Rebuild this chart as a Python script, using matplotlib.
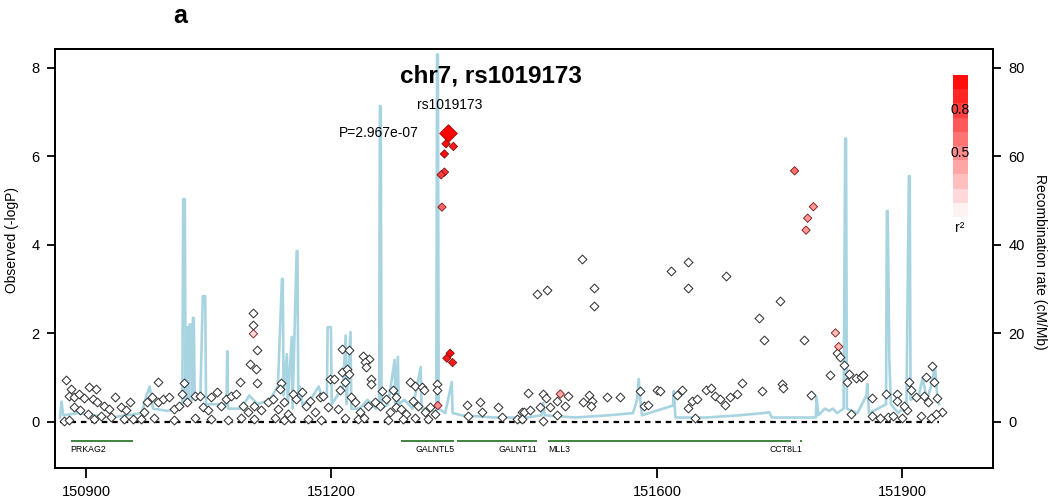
import numpy as np
import matplotlib
matplotlib.use("Agg")
import matplotlib.pyplot as plt
from matplotlib.patches import Rectangle

plt.rcParams['font.family'] = ['Liberation Sans', 'DejaVu Sans']

# SNPs with no LD information (open diamonds), position in kb and -log10 P
snp_pos = [150876, 150881, 150879, 150885, 150891, 150898, 150904, 150912, 150909, 150914,
           150922, 150928, 150936, 150943, 150949, 150954, 150885, 150893, 150902, 150918,
           150930, 150947, 150957, 150873, 150879, 150910, 150971, 150975, 150981, 150988,
           150988, 150994, 151002, 151008, 151014, 151018, 151020, 151024, 151033, 151039,
           151043, 151049, 151053, 151060, 151065, 151071, 151078, 151084, 151089, 151092,
           151098, 151106, 151105, 151105, 151110, 151101, 151108, 151110, 151114, 151123,
           151129, 151135, 151139, 151138, 151143, 151147, 151153, 151157, 151164, 151170,
           151174, 151180, 151186, 151190, 151196, 151199, 151204, 151209, 151211, 151213,
           151222, 151213, 151220, 151222, 151217, 151225, 151229, 151235, 151239, 151247,
           151242, 151243, 151249, 151249, 151245, 151254, 151260, 151262, 151268, 151272,
           151276, 151280, 151280, 151286, 151292, 151297, 151301, 151303, 151307, 151311,
           151314, 151315, 151321, 151327, 151330, 151330, 151367, 151382, 151405, 151385,
           151368, 151409, 151428, 151434,
           150967, 150983, 151008, 151033, 151053, 151074, 151090, 151106, 151131, 151143,
           151151, 151172, 151188, 151217, 151233, 151241, 151270, 151288, 151303, 151319,
           151452, 151465, 151507, 151522, 151522, 151616, 151637, 151637, 151684, 151724,
           151730, 151750, 151779, 151820, 151824, 151828, 151835, 151832, 151811, 151843,
           151849, 151852, 151936, 151939, 151929, 151908, 151910, 151880, 151894, 151894,
           151917, 151927, 151931, 151943, 151948, 151863, 151788, 151837, 151863, 151872,
           151882, 151888, 151900, 151906, 151902, 151923, 151935, 151941, 151442, 151460,
           151464, 151456, 151468, 151477, 151491, 151487, 151477, 151460, 151436, 151509,
           151516, 151520, 151518, 151538, 151554, 151578, 151584, 151589, 151599, 151603,
           151624, 151630, 151638, 151642, 151649, 151646, 151659, 151665, 151671, 151677,
           151683, 151689, 151698, 151704, 151728, 151752, 151754, 151444, 151434]
snp_logp = [0.95, 0.75, 0.59, 0.56, 0.63, 0.53, 0.80, 0.75, 0.52, 0.44,
            0.37, 0.29, 0.56, 0.33, 0.26, 0.44, 0.33, 0.26, 0.18, 0.14,
            0.11, 0.07, 0.07, 0.03, 0.05, 0.07, 0.22, 0.44, 0.56, 0.44,
            0.91, 0.52, 0.56, 0.29, 0.37, 0.63, 0.87, 0.44, 0.59, 0.59,
            0.33, 0.26, 0.56, 0.67, 0.37, 0.52, 0.59, 0.63, 0.91, 0.37,
            0.22, 0.37, 2.45, 2.19, 1.63, 1.31, 1.20, 0.88, 0.26, 0.44,
            0.52, 0.29, 0.87, 0.75, 0.44, 0.18, 0.63, 0.52, 0.67, 0.37,
            0.48, 0.22, 0.56, 0.59, 0.33, 0.96, 0.97, 0.29, 0.71, 1.65,
            1.63, 1.12, 1.20, 1.08, 0.90, 0.56, 0.44, 0.22, 1.50, 1.42,
            1.35, 1.23, 0.97, 0.86, 0.37, 0.44, 0.37, 0.69, 0.52, 0.22,
            0.71, 0.56, 0.33, 0.29, 0.18, 0.90, 0.48, 0.82, 0.37, 0.78,
            0.71, 0.22, 0.33, 0.18, 0.86, 0.71, 0.38, 0.44, 0.33, 0.22,
            0.14, 0.11, 0.07, 0.22,
            0.06, 0.08, 0.05, 0.10, 0.07, 0.04, 0.09, 0.06, 0.08, 0.05,
            0.10, 0.07, 0.04, 0.08, 0.06, 0.09, 0.05, 0.07, 0.10, 0.06,
            2.89, 2.98, 3.68, 3.02, 2.61, 3.40, 3.62, 3.03, 3.30, 2.34,
            1.86, 2.72, 1.86, 1.56, 1.46, 1.29, 1.08, 0.90, 1.05, 0.99,
            1.02, 1.05, 1.27, 0.90, 1.02, 0.90, 0.73, 0.63, 0.63, 0.48,
            0.56, 0.59, 0.44, 0.53, 0.23, 0.53, 0.61, 0.18, 0.14, 0.08,
            0.11, 0.14, 0.08, 0.26, 0.37, 0.14, 0.08, 0.18, 0.65, 0.63,
            0.53, 0.33, 0.33, 0.48, 0.58, 0.37, 0.16, 0.03, 0.22, 0.46,
            0.61, 0.48, 0.37, 0.56, 0.56, 0.69, 0.35, 0.38, 0.71, 0.69,
            0.61, 0.71, 0.31, 0.48, 0.52, 0.08, 0.71, 0.76, 0.58, 0.52,
            0.38, 0.56, 0.63, 0.88, 0.69, 0.86, 0.76, 0.26, 0.07]

# SNPs in LD with the lead SNP (filled, coloured by r2)
ld_pos = [151341, 151350, 151339, 151339, 151335, 151336, 151342, 151346, 151349, 151331,
          151481, 151768, 151791, 151784, 151782, 151818, 151822, 151105]
ld_logp = [6.28, 6.22, 6.05, 5.64, 5.58, 4.85, 1.44, 1.55, 1.34, 0.37,
           0.63, 5.67, 4.86, 4.60, 4.33, 2.01, 1.70, 1.99]
ld_r2 = [0.95, 0.90, 0.95, 0.80, 0.75, 0.60, 0.90, 0.95, 0.90, 0.45,
         0.35, 0.55, 0.40, 0.40, 0.40, 0.25, 0.30, 0.15]

lead_name = "rs1019173"
lead_pos = 151343.6
lead_logp = 6.528
lead_p = "P=2.967e-07"

# recombination rate (cM/Mb)
recomb_pos = [150868, 150870, 150872, 150890, 150910, 150930, 150950, 150968, 150974, 150978,
              150982, 151000, 151010, 151018, 151019, 151021, 151022, 151023, 151025, 151026,
              151027, 151029, 151030, 151031, 151032, 151033, 151040, 151043, 151046, 151047,
              151060, 151072, 151073, 151074, 151090, 151100, 151110, 151125, 151135, 151140,
              151141, 151142, 151146, 151147, 151152, 151153, 151158, 151159, 151160, 151162,
              151165, 151175, 151185, 151190, 151195, 151196, 151200, 151201, 151215, 151218,
              151219, 151224, 151225, 151235, 151245, 151255, 151259, 151260, 151261, 151262,
              151270, 151278, 151279, 151282, 151283, 151290, 151300, 151310, 151311, 151320,
              151329, 151330, 151331, 151332, 151340, 151348, 151349, 151360, 151400, 151440,
              151458, 151460, 151462, 151500, 151540, 151570, 151575, 151577, 151579, 151581,
              151619, 151620, 151622, 151660, 151700, 151730, 151737, 151740, 151760, 151794,
              151795, 151797, 151805, 151810, 151815, 151820, 151828, 151830, 151831, 151832,
              151845, 151856, 151857, 151859, 151870, 151880, 151881, 151882, 151883, 151884,
              151886, 151895, 151905, 151908, 151909, 151910, 151920, 151925, 151930, 151935,
              151940, 151943, 151945]
recomb_rate = [1, 4.6, 1.5, 2, 1.5, 1, 1.5, 2, 6, 8,
               3, 2.5, 3, 4, 50.3, 50.3, 5, 21.4, 21.4, 5,
               22, 22, 5, 23.5, 23.5, 6, 5, 28.4, 28.4, 4,
               4, 4, 16, 3, 3, 6, 4, 5, 8, 32.3,
               32.3, 6, 15.3, 4, 19.2, 3, 38.6, 38.6, 5, 8,
               4, 5, 8, 5, 6, 21.4, 21.4, 4, 8, 19.5,
               4, 20.3, 3, 3, 5, 3, 5, 71.3, 71.3, 3,
               4, 14, 3, 14.7, 4, 5, 3, 12.4, 3, 3,
               2, 83, 83, 3, 2, 9, 2, 1.5, 1, 1,
               1.5, 4.3, 1.5, 1, 1.5, 2, 5, 9.7, 5, 1.5,
               3.7, 7, 1, 1, 1.5, 2, 2.2, 1, 1, 1,
               5.6, 1.5, 3, 2.5, 3, 2, 3, 64, 64, 3,
               2, 6, 8.6, 2, 3, 4, 47.6, 47.6, 32, 14,
               4, 2, 4, 55.5, 55.5, 5, 6, 10, 5, 8,
               12.4, 5, 4]

# genes
gene_names = ["PRKAG2", "GALNTL5", "GALNT11", "MLL3", "CCT8L1"]
gene_start = [150881, 151286, 151355, 151466, 151774]
gene_end = [150958, 151351, 151453, 151764, 151777]
gene_label_side = ["left", "right", "right", "left", "right"]

xticks = [150900, 151200, 151600, 151900]


def r2_color(r):
    return (1.0, 1.0 - r, 1.0 - r)


fig = plt.figure(figsize=(10.5, 5.04), dpi=100)
ax = fig.add_axes([0.0524, 0.0714, 0.8933, 0.8314])
ax2 = ax.twinx()

# recombination line behind the points
ax2.plot(recomb_pos, recomb_rate, color='#a8d4e2', lw=1.9, clip_on=False, zorder=1)
ax2.set_ylim(-10.4, 84.2)
ax2.set_yticks([0, 20, 40, 60, 80])
ax.set_zorder(ax2.get_zorder() + 1)
ax.patch.set_visible(False)

ax.hlines(0, min(recomb_pos), max(recomb_pos), colors='black', linestyles=(0, (2.5, 2.2)), lw=1.6, zorder=2)

ax.scatter(snp_pos, snp_logp, s=20, marker='D', facecolors='white', edgecolors='#333333',
           linewidths=0.75, zorder=3)
ax.scatter(ld_pos, ld_logp, s=18, marker='D', c=[r2_color(r) for r in ld_r2],
           edgecolors='#7a1010', linewidths=0.6, zorder=4)
ax.scatter([lead_pos], [lead_logp], s=80, marker='D', c=[r2_color(1.0)],
           edgecolors='#aa0000', linewidths=0.6, zorder=5)
ax.annotate(lead_name, (lead_pos, lead_logp), xytext=(1, 15), textcoords='offset points',
            ha='center', va='bottom', fontsize=10)
ax.annotate(lead_p, (lead_pos, lead_logp), xytext=(-21, 0), textcoords='offset points',
            ha='right', va='center', fontsize=10)

# genes
for name, s, e, side in zip(gene_names, gene_start, gene_end, gene_label_side):
    ax.plot([s, e], [-0.43, -0.43], color='#1f6e1f', lw=1.2, solid_capstyle='butt')
    if side == "left":
        ax.text(s, -0.52, name, ha='left', va='top', fontsize=6.3)
    else:
        ax.text(e, -0.52, name, ha='right', va='top', fontsize=6.3)

ax.set_xlim(150862, 152011)
ax.set_ylim(-1.04, 8.42)
ax.set_xticks(xticks)
ax.set_xticklabels([str(t) for t in xticks])
ax.set_yticks([0, 2, 4, 6, 8])

for a in (ax, ax2):
    for sp in a.spines.values():
        sp.set_linewidth(1.3)
ax.tick_params(axis='x', length=7, width=1.3, pad=5, labelsize=10.5)
ax.tick_params(axis='y', length=6, width=1.3, pad=5, labelsize=10.5)
ax2.tick_params(axis='y', length=6, width=1.3, pad=5, labelsize=10.5)

# r2 legend
lx0, lw_ = 0.957, 0.016
ly0, lh = 0.599, 0.339
for i in range(10):
    ax.add_patch(Rectangle((lx0, ly0 + i * lh / 10), lw_, lh / 10, transform=ax.transAxes,
                           facecolor=r2_color(0.05 + i * 0.1), edgecolor='none', zorder=6))
for r in [0.8, 0.5]:
    ax.text(lx0 + lw_ / 2, ly0 + (r - 0.05) * lh, str(r), transform=ax.transAxes,
            ha='center', va='center', fontsize=10, zorder=7)
ax.text(lx0 + lw_ / 2, 0.573, 'r²', transform=ax.transAxes, ha='center', va='center', fontsize=10)

ax.text(0.465, 0.936, "chr7, rs1019173", transform=ax.transAxes, ha='center', va='center',
        fontsize=17.5, fontweight='bold')
fig.text(180 / 1050, 1 - 16 / 504, "a", ha='center', va='center', fontsize=18, fontweight='bold')
fig.text(12 / 1050, 1 - 240 / 504, "Observed (-logP)", rotation=90, ha='center', va='center', fontsize=10)
fig.text(1040 / 1050, 1 - 262 / 504, "Recombination rate (cM/Mb)", rotation=270, ha='center',
         va='center', fontsize=10)

fig.savefig("out.png", dpi=100)
